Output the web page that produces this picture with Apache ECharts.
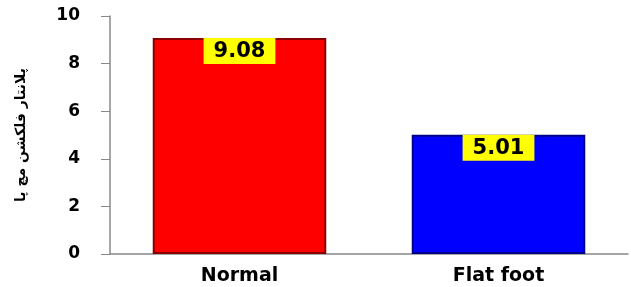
<!DOCTYPE html>
<html>
<head>
<meta charset="utf-8">
<script src="https://cdn.jsdelivr.net/npm/echarts@6/dist/echarts.min.js"></script>
<style>
  html, body { margin: 0; padding: 0; background: #fff; }
  #chart { width: 631px; height: 287px; }
</style>
</head>
<body>
<div id="chart"></div>
<script>
var categories = ['Normal', 'Flat foot'];
var values = [9.08, 5.01];
var barColors = ['#ff0000', '#0000ff'];
var barEdges = ['#8a0000', '#00008a'];
var yTicks = [0, 2, 4, 6, 8, 10];
var yName = 'پلانتار فلکشن مچ پا';

var myChart = echarts.init(document.getElementById('chart'));

var option = {
  animation: false,
  grid: { left: 110, right: 3, top: 16, bottom: 33 },
  xAxis: {
    type: 'category',
    data: categories,
    axisLine: { lineStyle: { color: '#888', width: 1.5 } },
    axisTick: { show: false },
    axisLabel: {
      color: '#000', fontFamily: 'DejaVu Sans', fontWeight: 'bold', fontSize: 19, margin: 13
    }
  },
  yAxis: {
    type: 'value',
    min: yTicks[0],
    max: yTicks[yTicks.length - 1],
    interval: 2,
    name: yName,
    nameLocation: 'middle',
    nameGap: 82,
    nameTextStyle: { color: '#000', fontFamily: 'DejaVu Sans', fontWeight: 'bold', fontSize: 14 },
    axisLine: { show: true, lineStyle: { color: '#888', width: 1.5 } },
    axisTick: { show: true, inside: false, length: 9, lineStyle: { color: '#888' } },
    splitLine: { show: false },
    axisLabel: {
      color: '#000', fontFamily: 'DejaVu Sans', fontWeight: 'bold', fontSize: 17, margin: 30
    }
  },
  series: [{
    type: 'bar',
    barWidth: '67%',
    data: values.map(function (v, i) {
      return {
        value: v,
        itemStyle: { color: barColors[i], borderColor: barEdges[i], borderWidth: 2 }
      };
    }),
    label: {
      show: true,
      position: 'insideTop',
      distance: 0,
      formatter: function (p) { return p.value.toFixed(2); },
      backgroundColor: '#ffff00',
      color: '#000',
      fontFamily: 'DejaVu Sans',
      fontWeight: 'bold',
      fontSize: 21,
      padding: [3, 10, 2, 10]
    }
  }]
};
myChart.setOption(option);
</script>
</body>
</html>
